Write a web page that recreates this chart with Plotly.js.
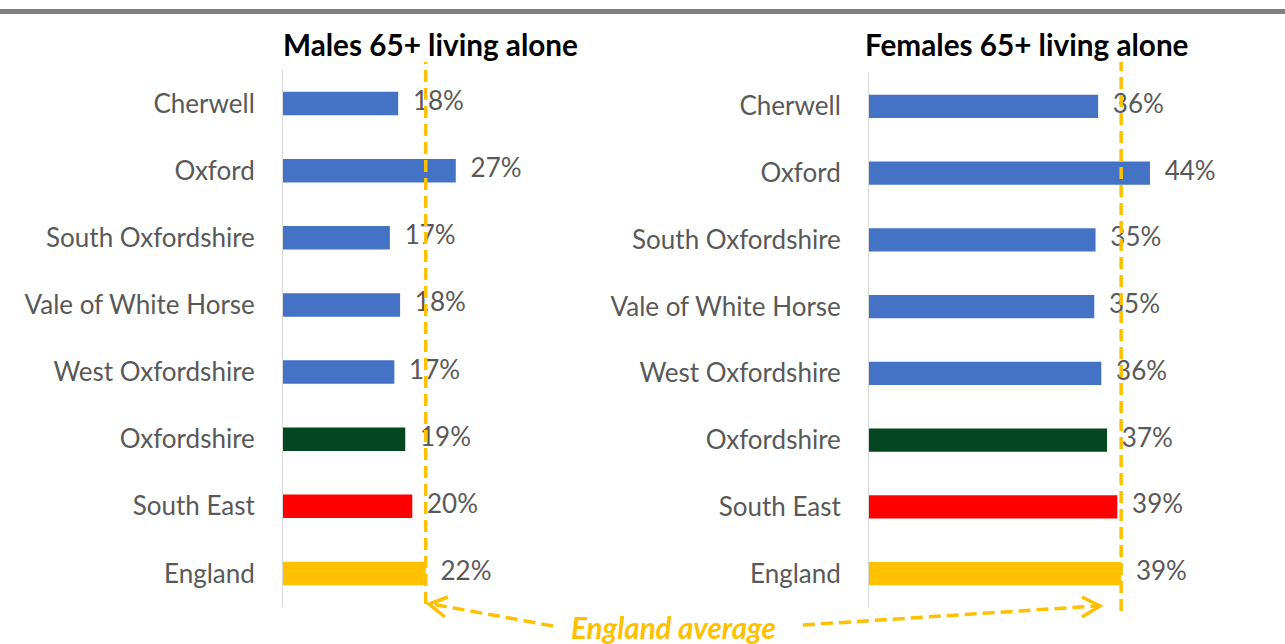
<!DOCTYPE html>
<html>
<head>
<meta charset="utf-8">
<script src="https://cdn.plot.ly/plotly-3.0.1.min.js"></script>
<style>
  html, body { margin: 0; padding: 0; background: #ffffff; }
  #chart { width: 1285px; height: 644px; }
</style>
</head>
<body>
<div id="chart"></div>
<script>
// ---- data ----
const areas = ["Cherwell", "Oxford", "South Oxfordshire", "Vale of White Horse",
               "West Oxfordshire", "Oxfordshire", "South East", "England"];
const malesAlone   = [18.0, 27.0, 16.7, 18.3, 17.4, 19.1, 20.2, 22.3];
const femalesAlone = [35.8, 43.9, 35.4, 35.2, 36.3, 37.2, 38.8, 39.4];
const barColors = ["#4472C4", "#4472C4", "#4472C4", "#4472C4", "#4472C4",
                   "#03461F", "#FF0000", "#FFC000"];
const malesTitle = "Males 65+ living alone";
const femalesTitle = "Females 65+ living alone";
const averageLabel = "England average";

// ---- helpers ----
const W = 1285, H = 644;
const px = x => x / W;
const py = y => 1 - y / H;
const englandMale = malesAlone[areas.indexOf("England")];
const englandFemale = femalesAlone[areas.indexOf("England")];
const pctText = arr => arr.map(v => Math.round(v) + "%");

const fam = "Lato, 'Open Sans', sans-serif";
const labelFont = { family: fam, size: 26, color: "#595959" };
const gold = "#FFC000";

function barTrace(vals, xa, ya) {
  return {
    type: "bar", orientation: "h",
    x: vals, y: areas, xaxis: xa, yaxis: ya,
    marker: { color: barColors, line: { width: 0 } },
    width: 0.35, hoverinfo: "skip", showlegend: false
  };
}
function labelTrace(vals, xa, ya) {
  return {
    type: "scatter", mode: "markers+text",
    x: vals, y: areas, xaxis: xa, yaxis: ya,
    text: pctText(vals), textposition: "middle right",
    marker: { size: 22, opacity: 0, color: "#ffffff" },
    textfont: labelFont, hoverinfo: "skip", showlegend: false, cliponaxis: false
  };
}

const data = [
  barTrace(malesAlone, "x", "y"),
  labelTrace(malesAlone, "x", "y"),
  barTrace(femalesAlone, "x2", "y2"),
  labelTrace(femalesAlone, "x2", "y2")
];

const yCommon = {
  type: "category", autorange: false, range: [areas.length - 0.5, -0.5],
  showgrid: false, zeroline: false,
  showline: true, linecolor: "#D9D9D9", linewidth: 1,
  ticks: "", ticklabelstandoff: 22,
  tickfont: labelFont, fixedrange: true
};
const xCommon = {
  showgrid: false, zeroline: false, showline: false,
  showticklabels: false, ticks: "", fixedrange: true
};

const dashLine = { color: gold, width: 3.5, dash: "12px,6px" };
const solidLine = { color: gold, width: 3.5 };

const layout = {
  width: W, height: H,
  margin: { l: 0, r: 0, t: 0, b: 0 },
  paper_bgcolor: "#ffffff", plot_bgcolor: "rgba(0,0,0,0)",
  showlegend: false,
  xaxis:  Object.assign({}, xCommon, { domain: [px(283), px(560)], range: [0, 277 / 6.4], anchor: "y" }),
  yaxis:  Object.assign({}, yCommon, { domain: [py(607), py(70)], anchor: "x" }),
  xaxis2: Object.assign({}, xCommon, { domain: [px(869), px(1240)], range: [0, 371 / 6.4], anchor: "y2" }),
  yaxis2: Object.assign({}, yCommon, { domain: [py(607), py(73)], anchor: "x2" }),
  shapes: [
    // top grey rule
    { type: "rect", xref: "paper", yref: "paper", x0: 0, x1: 1, y0: py(14), y1: py(9),
      fillcolor: "#808080", line: { width: 0 }, layer: "below" },
    // England average vertical lines
    { type: "line", xref: "x", yref: "paper", x0: englandMale, x1: englandMale,
      y0: py(604), y1: py(62), line: dashLine },
    { type: "line", xref: "x2", yref: "paper", x0: englandFemale, x1: englandFemale,
      y0: py(611), y1: py(62), line: dashLine },
    // left arrow
    { type: "line", xref: "paper", yref: "paper", x0: px(553), y0: py(626), x1: px(432), y1: py(604), line: dashLine },
    { type: "path", xref: "paper", yref: "paper",
      path: `M ${px(448)} ${py(597)} L ${px(429)} ${py(604)} L ${px(445)} ${py(617)}`, line: solidLine },
    // right arrow
    { type: "line", xref: "paper", yref: "paper", x0: px(803), y0: py(625), x1: px(1096), y1: py(606), line: dashLine },
    { type: "path", xref: "paper", yref: "paper",
      path: `M ${px(1082)} ${py(597)} L ${px(1100)} ${py(606)} L ${px(1082)} ${py(617)}`, line: solidLine }
  ],
  annotations: [
    { xref: "paper", yref: "paper", x: px(431), y: py(45), text: "<b>" + malesTitle + "</b>",
      showarrow: false, xanchor: "center", yanchor: "middle",
      font: { family: fam, size: 29.7, color: "#000000" } },
    { xref: "paper", yref: "paper", x: px(1026), y: py(45), text: "<b>" + femalesTitle + "</b>",
      showarrow: false, xanchor: "center", yanchor: "middle",
      font: { family: fam, size: 29.7, color: "#000000" } },
    { xref: "paper", yref: "paper", x: px(673), y: py(627), text: "<b><i>" + averageLabel + "</i></b>",
      showarrow: false, xanchor: "center", yanchor: "middle",
      font: { family: fam, size: 29.5, color: gold } }
  ]
};

Plotly.newPlot("chart", data, layout, { displayModeBar: false, staticPlot: true });
</script>
</body>
</html>
